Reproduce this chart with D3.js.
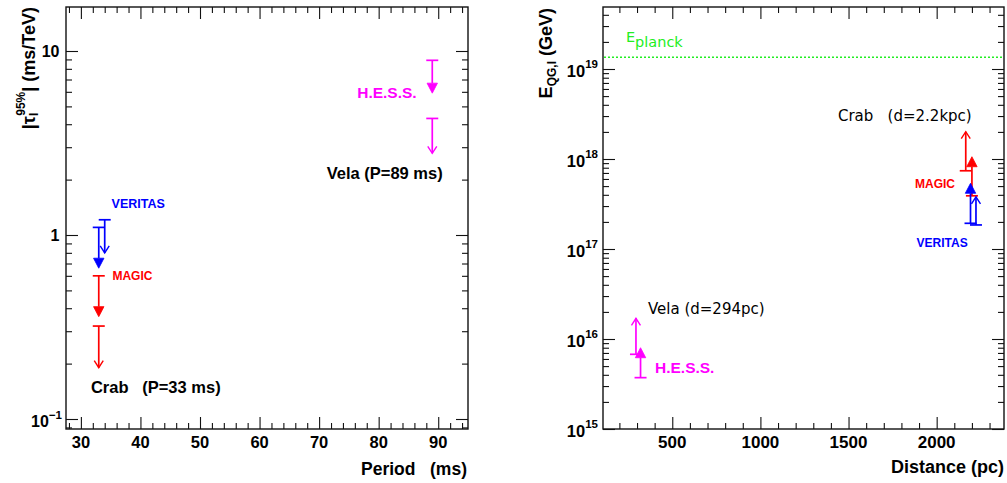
<!DOCTYPE html>
<html><head><meta charset="utf-8">
<script src="https://cdn.jsdelivr.net/npm/d3@7"></script>
<style>
body{margin:0;background:#fff;}
svg{display:block;}
text{white-space:pre;}
</style></head><body>
<svg id="c" width="1007" height="483"></svg>
<script>
// ---------------- DATA ----------------
// Left panel: |tau_l^95%| upper limits (ms/TeV) vs pulsar period (ms)
// series A = solid-head arrows, series B = open-head arrows
const leftA_inst   = ["MAGIC", "VERITAS", "H.E.S.S."];
const leftA_period = [33, 33, 89];
const leftA_from   = [0.60, 1.10, 8.9];
const leftA_limit  = [0.36, 0.66, 5.9];
const leftB_inst   = ["MAGIC", "VERITAS", "H.E.S.S."];
const leftB_period = [33, 34, 89];
const leftB_from   = [0.32, 1.21, 4.3];
const leftB_limit  = [0.19, 0.80, 2.78];

// Right panel: E_QG,l lower limits (GeV) vs distance (pc)
const rightA_inst  = ["MAGIC", "VERITAS", "H.E.S.S."];
const rightA_dist  = [2200, 2192, 320];
const rightA_from  = [3.9e17, 1.93e17, 3.72e15];
const rightA_limit = [1.06e18, 5.37e17, 8.0e15];
const rightB_inst  = ["MAGIC", "VERITAS", "H.E.S.S."];
const rightB_dist  = [2165, 2223, 294];
const rightB_from  = [7.4e17, 1.85e17, 6.76e15];
const rightB_limit = [2.01e18, 3.8e17, 1.70e16];

const planckEnergy = 1.35e19;

// axis ticks
const leftXTicks  = [30, 40, 50, 60, 70, 80, 90];
const leftYTicks  = [0.1, 1, 10];
const leftYLabels = [["10","-1"], ["1",""], ["10",""]];
const rightXTicks = [500, 1000, 1500, 2000];
const rightYTicks = [1e15, 1e16, 1e17, 1e18, 1e19];
const rightYLabels = [["10","15"],["10","16"],["10","17"],["10","18"],["10","19"]];

// annotations
const leftNotes = [
  {text:"VERITAS", inst:"VERITAS", x:35.15, y:1.47, size:12.5, anchor:"start"},
  {text:"MAGIC", inst:"MAGIC", x:35.3, y:0.599, size:12, anchor:"start"},
  {text:"H.E.S.S.", inst:"H.E.S.S.", x:76.4, y:5.93, size:15.5, anchor:"start"},
  {text:"Vela (P=89 ms)", inst:null, x:90.75, y:2.17, size:16.5, anchor:"end"},
  {text:"Crab   (P=33 ms)", inst:null, x:31.68, y:0.1498, size:16.5, anchor:"start"}
];
const rightNotes = [
  {text:"Crab   (d=2.2kpc)", inst:null, x:1440, y:3.0e18, size:15, bold:false},
  {text:"MAGIC", inst:"MAGIC", x:1877, y:5.28e17, size:12, bold:true},
  {text:"VERITAS", inst:"VERITAS", x:1886, y:1.175e17, size:12, bold:true},
  {text:"Vela (d=294pc)", inst:null, x:362, y:2.15e16, size:15, bold:false},
  {text:"H.E.S.S.", inst:"H.E.S.S.", x:402, y:4.8e15, size:15.5, bold:true}
];

const instColor = {"MAGIC":"#ff0000", "VERITAS":"#0000ff", "H.E.S.S.":"#ff00ff"};
const BOLD = "'Liberation Sans', Arial, Helvetica, sans-serif";
const NORM = "'DejaVu Sans', sans-serif";

// ---------------- SCALES ----------------
const L = {x0:66, x1:468, y0:7, y1:429};
const R = {x0:603, x1:1004, y0:7, y1:429};
const xL = d3.scaleLinear().domain([27.5, 95]).range([L.x0, L.x1]);
const yL = d3.scaleLog().domain([Math.pow(10,-194/184), Math.pow(10,228/184)]).range([L.y1, L.y0]);
const xR = d3.scaleLinear().domain([107, 2382]).range([R.x0, R.x1]);
const yR = d3.scaleLog().domain([1e15, Math.pow(10, 15 + 422/90)]).range([R.y1, R.y0]);

const svg = d3.select("#c");
svg.append("rect").attr("width",1007).attr("height",483).attr("fill","#fff");

function minorLog(domain){
  const out=[]; const lo=Math.floor(Math.log10(domain[0])), hi=Math.ceil(Math.log10(domain[1]));
  for(let e=lo;e<=hi;e++) for(let d=2;d<=9;d++){const v=d*Math.pow(10,e); if(v>=domain[0]&&v<=domain[1]) out.push(v);}
  return out;
}
function frame(box, xs, ys, xMajor, xMinor, yMajor, yMinor){
  const g = svg.append("g").attr("stroke","#111").attr("stroke-width",1.1).attr("fill","none");
  g.append("rect").attr("x",box.x0).attr("y",box.y0).attr("width",box.x1-box.x0).attr("height",box.y1-box.y0).attr("stroke-width",1.4);
  const axB = d3.axisBottom(xs).tickValues(xMajor).tickSize(-12).tickFormat("");
  const axT = d3.axisTop(xs).tickValues(xMajor).tickSize(-12).tickFormat("");
  const axBm = d3.axisBottom(xs).tickValues(xMinor).tickSize(-6).tickFormat("");
  const axTm = d3.axisTop(xs).tickValues(xMinor).tickSize(-6).tickFormat("");
  const axLf = d3.axisLeft(ys).tickValues(yMajor).tickSize(-12).tickFormat("");
  const axRt = d3.axisRight(ys).tickValues(yMajor).tickSize(-12).tickFormat("");
  const axLfm = d3.axisLeft(ys).tickValues(yMinor).tickSize(-6).tickFormat("");
  const axRtm = d3.axisRight(ys).tickValues(yMinor).tickSize(-6).tickFormat("");
  [[axB,`translate(0,${box.y1})`],[axT,`translate(0,${box.y0})`],[axBm,`translate(0,${box.y1})`],[axTm,`translate(0,${box.y0})`],
   [axLf,`translate(${box.x0},0)`],[axRt,`translate(${box.x1},0)`],[axLfm,`translate(${box.x0},0)`],[axRtm,`translate(${box.x1},0)`]]
   .forEach(([ax,tr])=>{
     const a = svg.append("g").attr("transform",tr).call(ax);
     a.select(".domain").remove();
     a.selectAll("line").attr("stroke","#111").attr("stroke-width",1.1);
   });
}

// ---- Left frame ----
const leftXMinor = d3.range(28, 95, 2).filter(v=>v%10!==0);
frame(L, xL, yL, leftXTicks, leftXMinor, leftYTicks, minorLog(yL.domain()));
// ---- Right frame ----
const rightXMinor = d3.range(200, 2382, 100).filter(v=>v%500!==0);
frame(R, xR, yR, rightXTicks, rightXMinor, rightYTicks, minorLog(yR.domain()));

// tick labels
svg.append("g").selectAll("text").data(leftXTicks).join("text")
  .attr("x",d=>xL(d)).attr("y",447.5).attr("text-anchor","middle")
  .attr("font-family",BOLD).attr("font-weight","bold").attr("font-size",16.5).text(d=>d);
svg.append("g").selectAll("text").data(rightXTicks).join("text")
  .attr("x",d=>xR(d)).attr("y",447.5).attr("text-anchor","middle")
  .attr("font-family",BOLD).attr("font-weight","bold").attr("font-size",17).text(d=>d);

leftYTicks.forEach((v,i)=>{
  const lab = leftYLabels[i];
  const t = svg.append("text").attr("x",lab[1]?62:59.5).attr("y",yL(v)+(lab[1]?8:6))
    .attr("text-anchor","end").attr("font-family",BOLD).attr("font-weight","bold").attr("font-size",16);
  t.append("tspan").text(lab[0]);
  if(lab[1]) t.append("tspan").attr("font-size",11.5).attr("dy",-8).text(lab[1].replace("-","\u2212"));
});
rightYTicks.forEach((v,i)=>{
  const lab = rightYLabels[i];
  const t = svg.append("text").attr("x",598).attr("y",yR(v)+8)
    .attr("text-anchor","end").attr("font-family",BOLD).attr("font-weight","bold").attr("font-size",16.5);
  t.append("tspan").text(lab[0]);
  t.append("tspan").attr("font-size",11.5).attr("dy",-9).text(lab[1]);
});

// axis titles
svg.append("text").attr("x",467).attr("y",475).attr("text-anchor","end")
  .attr("font-family",BOLD).attr("font-weight","bold").attr("font-size",17.5).text("Period   (ms)");
svg.append("text").attr("x",1004).attr("y",473).attr("text-anchor","end")
  .attr("font-family",BOLD).attr("font-weight","bold").attr("font-size",18).text("Distance (pc)");
{
  const t = svg.append("text").attr("transform","translate(35,7) rotate(-90)").attr("text-anchor","end")
    .attr("font-family",BOLD).attr("font-weight","bold").attr("font-size",18);
  t.append("tspan").text("|\u03c4");
  t.append("tspan").attr("font-size",12).attr("dy",3).text("I");
  t.append("tspan").attr("font-size",12).attr("dx",-3).attr("dy",-13).text("95%");
  t.append("tspan").attr("dy",10).text("| (ms/TeV)");
}
{
  const t = svg.append("text").attr("transform","translate(552,8) rotate(-90)").attr("text-anchor","end")
    .attr("font-family",BOLD).attr("font-weight","bold").attr("font-size",18);
  t.append("tspan").text("E");
  t.append("tspan").attr("font-size",12).attr("dy",4).text("QG,l");
  t.append("tspan").attr("dy",-4).text(" (GeV)");
}

// Planck line
svg.append("line").attr("x1",R.x0+1).attr("x2",R.x1-1).attr("y1",yR(planckEnergy)).attr("y2",yR(planckEnergy))
  .attr("stroke","#22ee22").attr("stroke-width",1.6).attr("stroke-dasharray","2,2");
{
  const t = svg.append("text").attr("x",xR(237)).attr("y",yR(2.01e19)).attr("fill","#22ee22")
    .attr("font-family",NORM).attr("font-size",14.5);
  t.append("tspan").text("E");
  t.append("tspan").attr("dy",5).text("planck");
}

// arrows
function arrow(x, yFrom, yTo, filled, color){
  const g = svg.append("g").attr("stroke",color).attr("fill",color).attr("stroke-width",1.7);
  const dir = Math.sign(yTo - yFrom);
  g.append("line").attr("x1",x-6).attr("x2",x+6).attr("y1",yFrom).attr("y2",yFrom);
  if(filled){
    const hl=10, hw=5.2;
    g.append("line").attr("x1",x).attr("x2",x).attr("y1",yFrom).attr("y2",yTo-dir*hl);
    g.append("path").attr("stroke-width",0.8)
      .attr("d",`M${x},${yTo} L${x-hw},${yTo-dir*hl} L${x+hw},${yTo-dir*hl} Z`);
  } else {
    g.append("line").attr("x1",x).attr("x2",x).attr("y1",yFrom).attr("y2",yTo);
    g.append("path").attr("fill","none").attr("stroke-width",1.4)
      .attr("d",`M${x-4.5},${yTo-dir*7} L${x},${yTo} L${x+4.5},${yTo-dir*7}`);
  }
}
leftB_inst.forEach((inst,i)=>arrow(xL(leftB_period[i]), yL(leftB_from[i]), yL(leftB_limit[i]), false, instColor[inst]));
leftA_inst.forEach((inst,i)=>arrow(xL(leftA_period[i]), yL(leftA_from[i]), yL(leftA_limit[i]), true, instColor[inst]));
// right: draw MAGIC first, VERITAS over it
[0,2,1].forEach(i=>{
  arrow(xR(rightB_dist[i]), yR(rightB_from[i]), yR(rightB_limit[i]), false, instColor[rightB_inst[i]]);
  arrow(xR(rightA_dist[i]), yR(rightA_from[i]), yR(rightA_limit[i]), true, instColor[rightA_inst[i]]);
});

// annotations
leftNotes.forEach(n=>{
  svg.append("text").attr("x",xL(n.x)).attr("y",yL(n.y)).attr("dominant-baseline","central")
    .attr("text-anchor",n.anchor).attr("fill",n.inst?instColor[n.inst]:"#000")
    .attr("font-family",BOLD).attr("font-weight","bold").attr("font-size",n.size).text(n.text);
});
rightNotes.forEach(n=>{
  svg.append("text").attr("x",xR(n.x)).attr("y",yR(n.y)).attr("dominant-baseline","central")
    .attr("fill",n.inst?instColor[n.inst]:"#000")
    .attr("font-family",n.bold?BOLD:NORM).attr("font-weight",n.bold?"bold":"normal")
    .attr("font-size",n.size).text(n.text);
});
</script></body></html>
